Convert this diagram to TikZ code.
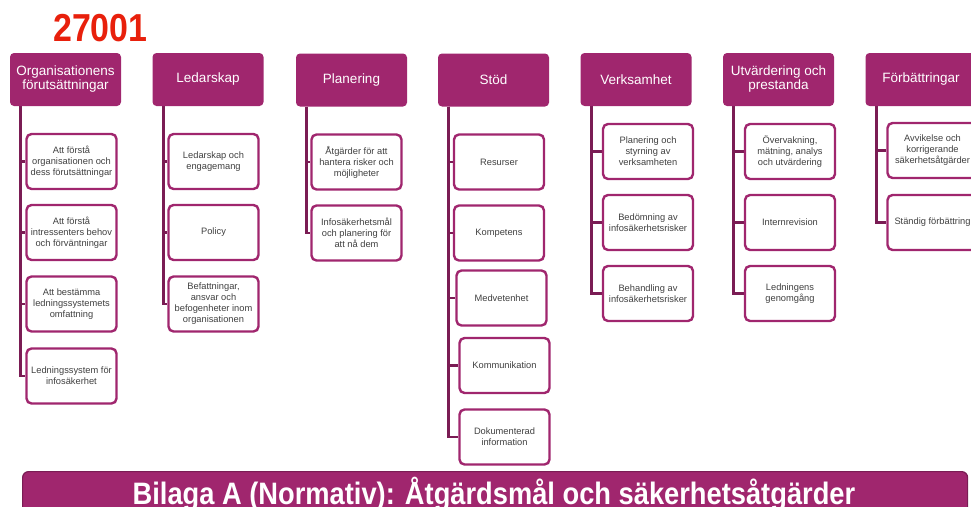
\documentclass[tikz,border=0pt]{standalone}
\usepackage{fontspec}
\setmainfont{Liberation Sans}
\usetikzlibrary{backgrounds}
\definecolor{plum}{RGB}{160,38,110}
\definecolor{plumdark}{RGB}{122,28,84}
\definecolor{txtgray}{RGB}{64,64,64}
\definecolor{isored}{RGB}{232,32,12}
\tikzset{
  head/.style={fill=plum, rounded corners=4pt, minimum width=111pt, minimum height=53pt,
    text=white, font=\fontsize{13.5}{14}\selectfont, align=center, inner sep=0pt},
  leaf/.style={draw=plum, line width=2.4pt, fill=white, rounded corners=5pt,
    minimum width=90pt, minimum height=55pt, text=txtgray,
    font=\fontsize{9.3}{11}\selectfont, align=center, inner sep=1pt},
  tree/.style={draw=plumdark, line width=2.8pt},
  barbox/.style={fill=plum, draw=plumdark, line width=1.2pt, rounded corners=6pt,
    minimum width=945pt, minimum height=70pt, inner sep=0pt},
}
\begin{document}
\begin{tikzpicture}[x=1pt,y=-1pt]
\useasboundingbox (0,0) rectangle (971,506);
\clip (0,0) rectangle (971,506);

\node[anchor=base west, text=isored, font=\fontsize{39}{39}\bfseries\selectfont, inner sep=0pt] (title) at (53,41) {\scalebox{0.87}[1]{27001}};

% headers
\node[head] (h1) at (65.5,79.5) {Organisationens\\förutsättningar};
\node[head] (h2) at (208,79.5) {Ledarskap};
\node[head] (h3) at (351.5,80) {Planering};
\node[head] (h4) at (493.5,80) {Stöd};
\node[head] (h5) at (636,79.5) {Verksamhet};
\node[head] (h6) at (778.5,79.5) {Utvärdering och\\prestanda};
\node[head] (h7) at (921,79.5) {Förbättringar};

% column 1
\node[leaf] (c11) at (71.5,161.5) {Att förstå\\organisationen och\\dess förutsättningar};
\node[leaf] (c12) at (71.5,232.5) {Att förstå\\intressenters behov\\och förväntningar};
\node[leaf] (c13) at (71.5,304) {Att bestämma\\ledningssystemets\\omfattning};
\node[leaf] (c14) at (71.5,376) {Ledningssystem för\\infosäkerhet};
% column 2
\node[leaf] (c21) at (213.5,161.5) {Ledarskap och\\engagemang};
\node[leaf] (c22) at (213.5,232.5) {Policy};
\node[leaf] (c23) at (213.5,304) {Befattningar,\\ansvar och\\befogenheter inom\\organisationen};
% column 3
\node[leaf] (c31) at (356.5,162) {Åtgärder för att\\hantera risker och\\möjligheter};
\node[leaf] (c32) at (356.5,233) {Infosäkerhetsmål\\och planering för\\att nå dem};
% column 4
\node[leaf] (c41) at (499,162) {Resurser};
\node[leaf] (c42) at (499,233) {Kompetens};
\node[leaf] (c43) at (501.5,298) {Medvetenhet};
\node[leaf] (c44) at (504.5,365.5) {Kommunikation};
\node[leaf] (c45) at (504.5,437) {Dokumenterad\\information};
% column 5
\node[leaf] (c51) at (648,151.5) {Planering och\\styrning av\\verksamheten};
\node[leaf] (c52) at (648,222.5) {Bedömning av\\infosäkerhetsrisker};
\node[leaf] (c53) at (648,293.5) {Behandling av\\infosäkerhetsrisker};
% column 6
\node[leaf] (c61) at (790,151.5) {Övervakning,\\mätning, analys\\och utvärdering};
\node[leaf] (c62) at (790,222.5) {Internrevision};
\node[leaf] (c63) at (790,293.5) {Ledningens\\genomgång};
% column 7
\node[leaf] (c71) at (932.5,150.5) {Avvikelse och\\korrigerande\\säkerhetsåtgärder};
\node[leaf] (c72) at (932.5,222.5) {Ständig förbättring};

\begin{pgfonlayer}{background}
\foreach \c in {c11,c12,c13,c14} \draw[tree] ([xshift=11pt]h1.south west) |- (\c.west);
\foreach \c in {c21,c22,c23} \draw[tree] ([xshift=11pt]h2.south west) |- (\c.west);
\foreach \c in {c31,c32} \draw[tree] ([xshift=10.5pt]h3.south west) |- (\c.west);
\foreach \c in {c41,c42,c43,c44,c45} \draw[tree] ([xshift=10.5pt]h4.south west) |- (\c.west);
\foreach \c in {c51,c52,c53} \draw[tree] ([xshift=11pt]h5.south west) |- (\c.west);
\foreach \c in {c61,c62,c63} \draw[tree] ([xshift=10.5pt]h6.south west) |- (\c.west);
\foreach \c in {c71,c72} \draw[tree] ([xshift=11pt]h7.south west) |- (\c.west);
\end{pgfonlayer}

% bottom bar
\node[barbox, anchor=north west] (bar) at (22,471) {};
\node[anchor=base, text=white, font=\fontsize{31}{31}\bfseries\selectfont, inner sep=0pt] (bartext) at (494,504) {\scalebox{0.88}[1]{Bilaga A (Normativ): Åtgärdsmål och säkerhetsåtgärder}};
\end{tikzpicture}
\end{document}
